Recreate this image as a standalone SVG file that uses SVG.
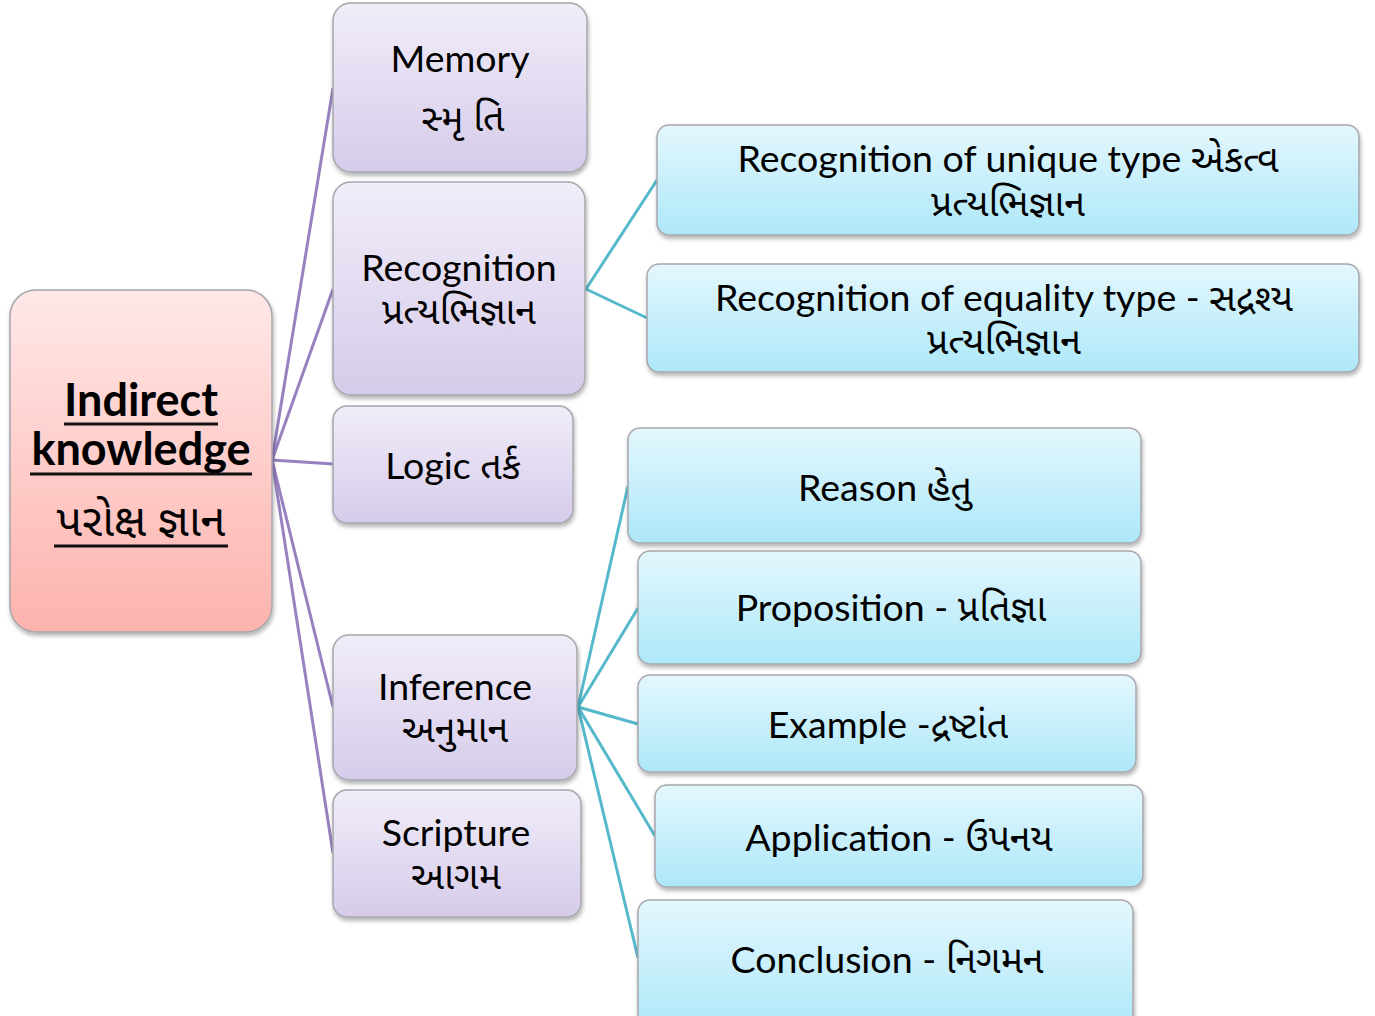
<svg xmlns="http://www.w3.org/2000/svg" width="1375" height="1016" viewBox="0 0 1375 1016">
<defs>
<linearGradient id="gPink" x1="0" y1="0" x2="0" y2="1"><stop offset="0" stop-color="#ffe8e8"/><stop offset="1" stop-color="#fdb3ad"/></linearGradient>
<linearGradient id="gPurple" x1="0" y1="0" x2="0" y2="1"><stop offset="0" stop-color="#f1edf9"/><stop offset="1" stop-color="#d6cbea"/></linearGradient>
<linearGradient id="gBlue" x1="0" y1="0" x2="0" y2="1"><stop offset="0" stop-color="#e4f7fd"/><stop offset="1" stop-color="#ade8f9"/></linearGradient>
<filter id="sh" x="-5%" y="-5%" width="110%" height="115%"><feDropShadow dx="1" dy="3" stdDeviation="2" flood-color="#000" flood-opacity="0.3"/></filter>
<style>
.box{stroke:#a7a7ad;stroke-width:1.5;filter:url(#sh)}
.pink{fill:url(#gPink)}
.purple{fill:url(#gPurple)}
.blue{fill:url(#gBlue)}
text{font-family:Lato,"Noto Sans","Noto Sans Gujarati",sans-serif;fill:#000;text-anchor:middle;font-size:37.5px}
.big{font-size:45px;font-weight:bold}
.ul{stroke:#111;stroke-width:3}
.cp{stroke:#9781bf;stroke-width:3;fill:none}
.cb{stroke:#56b9cb;stroke-width:3;fill:none}
</style>
</defs>
<g id="connectors">
<line class="cp" x1="272" y1="460" x2="333" y2="88"/>
<line class="cp" x1="272" y1="460" x2="333" y2="289"/>
<line class="cp" x1="272" y1="460" x2="333" y2="464"/>
<line class="cp" x1="272" y1="460" x2="333" y2="707"/>
<line class="cp" x1="272" y1="460" x2="333" y2="853"/>
<line class="cb" x1="586" y1="289" x2="657" y2="180"/>
<line class="cb" x1="586" y1="289" x2="647" y2="318"/>
<line class="cb" x1="578" y1="707" x2="628" y2="486"/>
<line class="cb" x1="578" y1="707" x2="638" y2="608"/>
<line class="cb" x1="578" y1="707" x2="638" y2="724"/>
<line class="cb" x1="578" y1="707" x2="655" y2="836"/>
<line class="cb" x1="578" y1="707" x2="638" y2="958"/>
</g>
<g id="root">
<rect class="box pink" x="10" y="290" width="262" height="342" rx="26"/>
<text class="big" x="141" y="416">Indirect</text>
<line class="ul" x1="64" y1="424" x2="218" y2="424"/>
<text class="big" x="141" y="465">knowledge</text>
<line class="ul" x1="30" y1="474" x2="252" y2="474"/>
<text x="141" y="536" style="font-size:45px">પરોક્ષ જ્ઞાન</text>
<line class="ul" x1="54" y1="546" x2="228" y2="546"/>
</g>
<g id="memory">
<rect class="box purple" x="333" y="3" width="254" height="169" rx="18"/>
<text x="460" y="72">Memory</text>
<text x="463" y="131">સ્મૃ તિ</text>
</g>
<g id="recognition">
<rect class="box purple" x="333" y="182" width="252" height="213" rx="18"/>
<text x="459" y="281">Recognition</text>
<text x="459" y="324">પ્રત્યભિજ્ઞાન</text>
</g>
<g id="logic">
<rect class="box purple" x="333" y="406" width="240" height="117" rx="14"/>
<text x="453" y="479">Logic  તર્ક</text>
</g>
<g id="inference">
<rect class="box purple" x="333" y="635" width="244" height="145" rx="16"/>
<text x="455" y="700">Inference</text>
<text x="455" y="742">અનુમાન</text>
</g>
<g id="scripture">
<rect class="box purple" x="333" y="790" width="248" height="127" rx="14"/>
<text x="456" y="846">Scripture</text>
<text x="456" y="889">આગમ</text>
</g>
<g id="unique">
<rect class="box blue" x="657" y="125" width="702" height="110" rx="12"/>
<text x="1008" y="172">Recognition of unique type એકત્વ</text>
<text x="1008" y="216">પ્રત્યભિજ્ઞાન</text>
</g>
<g id="equality">
<rect class="box blue" x="647" y="264" width="712" height="108" rx="12"/>
<text x="1004" y="311">Recognition of equality type - સદ્રશ્ય</text>
<text x="1004" y="354">પ્રત્યભિજ્ઞાન</text>
</g>
<g id="reason">
<rect class="box blue" x="628" y="428" width="513" height="115" rx="12"/>
<text x="885" y="501">Reason હેતુ</text>
</g>
<g id="proposition">
<rect class="box blue" x="638" y="551" width="503" height="113" rx="12"/>
<text x="891" y="621">Proposition - પ્રતિજ્ઞા</text>
</g>
<g id="example">
<rect class="box blue" x="638" y="675" width="498" height="97" rx="12"/>
<text x="888" y="738">Example -દ્રષ્ટાંત</text>
</g>
<g id="application">
<rect class="box blue" x="655" y="785" width="488" height="102" rx="12"/>
<text x="899" y="851">Application - ઉપનય</text>
</g>
<g id="conclusion">
<rect class="box blue" x="638" y="900" width="495" height="130" rx="12"/>
<text x="887" y="973">Conclusion - નિગમન</text>
</g>
</svg>
